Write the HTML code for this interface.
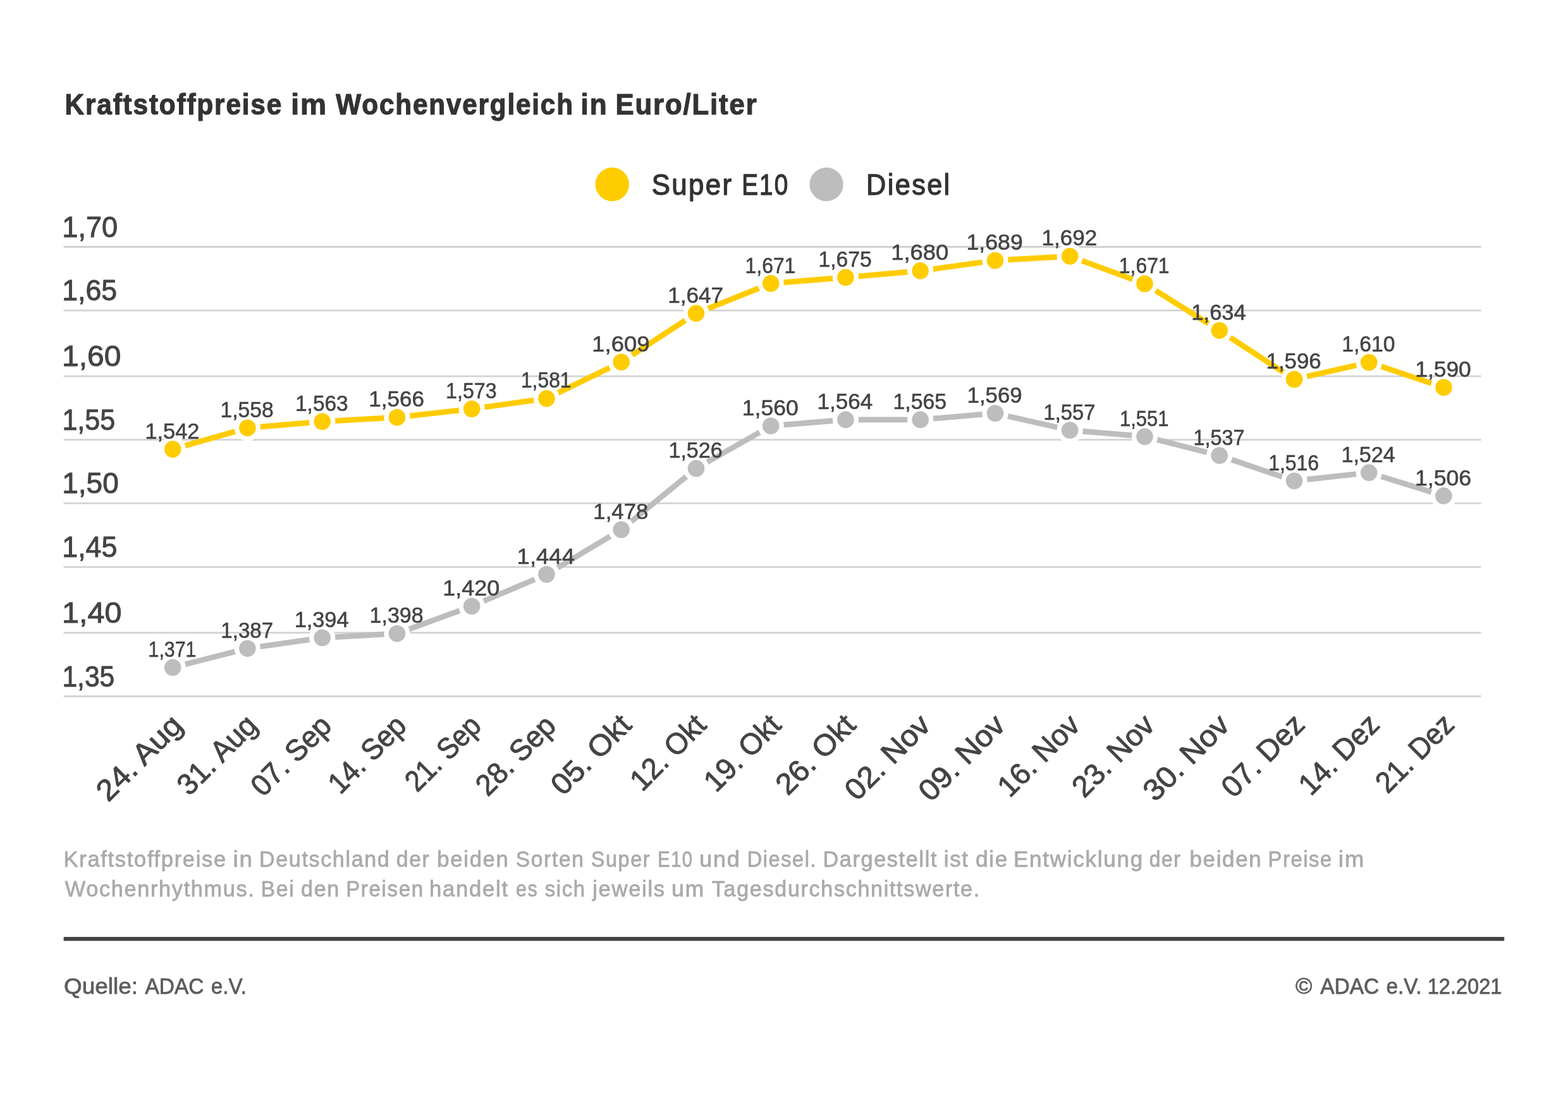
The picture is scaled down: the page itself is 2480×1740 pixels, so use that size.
<!DOCTYPE html>
<html lang="de">
<head>
<meta charset="utf-8">
<title>Kraftstoffpreise im Wochenvergleich in Euro/Liter</title>
<style>
html,body{margin:0;padding:0;background:#fff;}
body{width:2480px;height:1740px;overflow:hidden;}
svg{display:block;font-family:"Liberation Sans",sans-serif;}
</style>
</head>
<body>
<svg width="2480" height="1740" viewBox="0 0 2480 1740" role="img" aria-label="Kraftstoffpreise im Wochenvergleich in Euro/Liter">
<rect width="2480" height="1740" fill="#ffffff"/>
<g id="title">
<text y="180.80" font-size="47.09" fill="#333333" stroke="#333333" stroke-width="1.20" stroke-linejoin="round" font-weight="700"><tspan x="102.56" letter-spacing="2.00" textLength="344.59" lengthAdjust="spacingAndGlyphs">Kraftstoffpreise</tspan> <tspan x="460.17" letter-spacing="2.00" textLength="57.86" lengthAdjust="spacingAndGlyphs">im</tspan> <tspan x="531.36" letter-spacing="2.00" textLength="376.45" lengthAdjust="spacingAndGlyphs">Wochenvergleich</tspan> <tspan x="918.52" letter-spacing="2.00" textLength="43.00" lengthAdjust="spacingAndGlyphs">in</tspan> <tspan x="973.48" letter-spacing="2.00" textLength="225.04" lengthAdjust="spacingAndGlyphs">Euro/Liter</tspan></text>
</g>
<g id="legend">
<circle cx="968.3" cy="291.6" r="26.7" fill="#ffcc00"/>
<text y="307.75" font-size="45.93" fill="#333333" stroke="#333333" stroke-width="1.30" stroke-linejoin="round"><tspan x="1030.66" letter-spacing="2.50" textLength="128.80" lengthAdjust="spacingAndGlyphs">Super</tspan> <tspan x="1173.18" letter-spacing="2.50" textLength="75.08" lengthAdjust="spacingAndGlyphs">E10</tspan></text>
<circle cx="1307.1" cy="291.6" r="26.7" fill="#bdbdbd"/>
<text y="307.75" font-size="45.93" fill="#333333" stroke="#333333" stroke-width="1.30" stroke-linejoin="round"><tspan x="1370.10" letter-spacing="2.50" textLength="134.51" lengthAdjust="spacingAndGlyphs">Diesel</tspan></text>
</g>
<g id="grid" stroke="#d2d2d2" stroke-width="2.8">
<line x1="100.6" y1="390.5" x2="2342.6" y2="390.5"/>
<line x1="100.6" y1="491.1" x2="2342.6" y2="491.1"/>
<line x1="100.6" y1="595.1" x2="2342.6" y2="595.1"/>
<line x1="100.6" y1="695.6" x2="2342.6" y2="695.6"/>
<line x1="100.6" y1="796.2" x2="2342.6" y2="796.2"/>
<line x1="100.6" y1="896.8" x2="2342.6" y2="896.8"/>
<line x1="100.6" y1="1000.8" x2="2342.6" y2="1000.8"/>
<line x1="100.6" y1="1101.4" x2="2342.6" y2="1101.4"/>
</g>
<g id="yaxis">
<text x="98.26" y="374.60" font-size="47.09" textLength="88.01" lengthAdjust="spacingAndGlyphs" fill="#444444" stroke="#444444" stroke-width="1.00" stroke-linejoin="round">1,70</text>
<text x="98.30" y="475.20" font-size="47.09" textLength="86.87" lengthAdjust="spacingAndGlyphs" fill="#444444" stroke="#444444" stroke-width="1.00" stroke-linejoin="round">1,65</text>
<text x="98.05" y="579.20" font-size="47.09" textLength="93.33" lengthAdjust="spacingAndGlyphs" fill="#444444" stroke="#444444" stroke-width="1.00" stroke-linejoin="round">1,60</text>
<text x="98.42" y="679.70" font-size="47.09" textLength="83.68" lengthAdjust="spacingAndGlyphs" fill="#444444" stroke="#444444" stroke-width="1.00" stroke-linejoin="round">1,55</text>
<text x="98.19" y="780.30" font-size="47.09" textLength="89.61" lengthAdjust="spacingAndGlyphs" fill="#444444" stroke="#444444" stroke-width="1.00" stroke-linejoin="round">1,50</text>
<text x="98.29" y="880.90" font-size="47.09" textLength="87.09" lengthAdjust="spacingAndGlyphs" fill="#444444" stroke="#444444" stroke-width="1.00" stroke-linejoin="round">1,45</text>
<text x="98.01" y="984.90" font-size="47.09" textLength="94.39" lengthAdjust="spacingAndGlyphs" fill="#444444" stroke="#444444" stroke-width="1.00" stroke-linejoin="round">1,40</text>
<text x="98.46" y="1085.50" font-size="47.09" textLength="82.83" lengthAdjust="spacingAndGlyphs" fill="#444444" stroke="#444444" stroke-width="1.00" stroke-linejoin="round">1,35</text>
</g>
<g id="diesel">
<polyline fill="none" stroke="#bdbdbd" stroke-width="8.8" stroke-linejoin="round" points="273.2,1055.8 391.4,1025.7 509.7,1008.8 628.0,1002.2 746.2,958.8 864.5,908.5 982.7,837.8 1101.0,741.0 1219.2,673.7 1337.5,663.9 1455.7,663.9 1574.0,653.7 1692.2,680.5 1810.5,690.5 1928.7,720.5 2047.0,760.7 2165.2,747.6 2283.4,784.4"/>
<circle cx="273.2" cy="1055.8" r="16.95" fill="#bdbdbd" stroke="#ffffff" stroke-width="7.3"/>
<circle cx="391.4" cy="1025.7" r="16.95" fill="#bdbdbd" stroke="#ffffff" stroke-width="7.3"/>
<circle cx="509.7" cy="1008.8" r="16.95" fill="#bdbdbd" stroke="#ffffff" stroke-width="7.3"/>
<circle cx="628.0" cy="1002.2" r="16.95" fill="#bdbdbd" stroke="#ffffff" stroke-width="7.3"/>
<circle cx="746.2" cy="958.8" r="16.95" fill="#bdbdbd" stroke="#ffffff" stroke-width="7.3"/>
<circle cx="864.5" cy="908.5" r="16.95" fill="#bdbdbd" stroke="#ffffff" stroke-width="7.3"/>
<circle cx="982.7" cy="837.8" r="16.95" fill="#bdbdbd" stroke="#ffffff" stroke-width="7.3"/>
<circle cx="1101.0" cy="741.0" r="16.95" fill="#bdbdbd" stroke="#ffffff" stroke-width="7.3"/>
<circle cx="1219.2" cy="673.7" r="16.95" fill="#bdbdbd" stroke="#ffffff" stroke-width="7.3"/>
<circle cx="1337.5" cy="663.9" r="16.95" fill="#bdbdbd" stroke="#ffffff" stroke-width="7.3"/>
<circle cx="1455.7" cy="663.9" r="16.95" fill="#bdbdbd" stroke="#ffffff" stroke-width="7.3"/>
<circle cx="1574.0" cy="653.7" r="16.95" fill="#bdbdbd" stroke="#ffffff" stroke-width="7.3"/>
<circle cx="1692.2" cy="680.5" r="16.95" fill="#bdbdbd" stroke="#ffffff" stroke-width="7.3"/>
<circle cx="1810.5" cy="690.5" r="16.95" fill="#bdbdbd" stroke="#ffffff" stroke-width="7.3"/>
<circle cx="1928.7" cy="720.5" r="16.95" fill="#bdbdbd" stroke="#ffffff" stroke-width="7.3"/>
<circle cx="2047.0" cy="760.7" r="16.95" fill="#bdbdbd" stroke="#ffffff" stroke-width="7.3"/>
<circle cx="2165.2" cy="747.6" r="16.95" fill="#bdbdbd" stroke="#ffffff" stroke-width="7.3"/>
<circle cx="2283.4" cy="784.4" r="16.95" fill="#bdbdbd" stroke="#ffffff" stroke-width="7.3"/>
</g>
<g id="e10">
<polyline fill="none" stroke="#ffcc00" stroke-width="8.8" stroke-linejoin="round" points="273.2,710.6 391.4,676.9 509.7,666.8 628.0,660.2 746.2,646.8 864.5,630.3 982.7,572.7 1101.0,495.6 1219.2,448.4 1337.5,438.8 1455.7,428.3 1574.0,412.0 1692.2,405.3 1810.5,448.8 1928.7,522.7 2047.0,600.0 2165.2,573.2 2283.4,612.9"/>
<circle cx="273.2" cy="710.6" r="16.95" fill="#ffcc00" stroke="#ffffff" stroke-width="7.3"/>
<circle cx="391.4" cy="676.9" r="16.95" fill="#ffcc00" stroke="#ffffff" stroke-width="7.3"/>
<circle cx="509.7" cy="666.8" r="16.95" fill="#ffcc00" stroke="#ffffff" stroke-width="7.3"/>
<circle cx="628.0" cy="660.2" r="16.95" fill="#ffcc00" stroke="#ffffff" stroke-width="7.3"/>
<circle cx="746.2" cy="646.8" r="16.95" fill="#ffcc00" stroke="#ffffff" stroke-width="7.3"/>
<circle cx="864.5" cy="630.3" r="16.95" fill="#ffcc00" stroke="#ffffff" stroke-width="7.3"/>
<circle cx="982.7" cy="572.7" r="16.95" fill="#ffcc00" stroke="#ffffff" stroke-width="7.3"/>
<circle cx="1101.0" cy="495.6" r="16.95" fill="#ffcc00" stroke="#ffffff" stroke-width="7.3"/>
<circle cx="1219.2" cy="448.4" r="16.95" fill="#ffcc00" stroke="#ffffff" stroke-width="7.3"/>
<circle cx="1337.5" cy="438.8" r="16.95" fill="#ffcc00" stroke="#ffffff" stroke-width="7.3"/>
<circle cx="1455.7" cy="428.3" r="16.95" fill="#ffcc00" stroke="#ffffff" stroke-width="7.3"/>
<circle cx="1574.0" cy="412.0" r="16.95" fill="#ffcc00" stroke="#ffffff" stroke-width="7.3"/>
<circle cx="1692.2" cy="405.3" r="16.95" fill="#ffcc00" stroke="#ffffff" stroke-width="7.3"/>
<circle cx="1810.5" cy="448.8" r="16.95" fill="#ffcc00" stroke="#ffffff" stroke-width="7.3"/>
<circle cx="1928.7" cy="522.7" r="16.95" fill="#ffcc00" stroke="#ffffff" stroke-width="7.3"/>
<circle cx="2047.0" cy="600.0" r="16.95" fill="#ffcc00" stroke="#ffffff" stroke-width="7.3"/>
<circle cx="2165.2" cy="573.2" r="16.95" fill="#ffcc00" stroke="#ffffff" stroke-width="7.3"/>
<circle cx="2283.4" cy="612.9" r="16.95" fill="#ffcc00" stroke="#ffffff" stroke-width="7.3"/>
</g>
<g id="labels">
<text x="234.54" y="1038.90" font-size="35.47" textLength="75.90" lengthAdjust="spacingAndGlyphs" fill="#444444" stroke="#444444" stroke-width="0.60" stroke-linejoin="round">1,371</text>
<text x="349.29" y="1008.80" font-size="35.47" textLength="82.86" lengthAdjust="spacingAndGlyphs" fill="#444444" stroke="#444444" stroke-width="0.60" stroke-linejoin="round">1,387</text>
<text x="465.65" y="991.90" font-size="35.47" textLength="85.89" lengthAdjust="spacingAndGlyphs" fill="#444444" stroke="#444444" stroke-width="0.60" stroke-linejoin="round">1,394</text>
<text x="584.49" y="985.30" font-size="35.47" textLength="85.21" lengthAdjust="spacingAndGlyphs" fill="#444444" stroke="#444444" stroke-width="0.60" stroke-linejoin="round">1,398</text>
<text x="700.23" y="941.90" font-size="35.47" textLength="90.00" lengthAdjust="spacingAndGlyphs" fill="#444444" stroke="#444444" stroke-width="0.60" stroke-linejoin="round">1,420</text>
<text x="817.61" y="891.60" font-size="35.47" textLength="91.37" lengthAdjust="spacingAndGlyphs" fill="#444444" stroke="#444444" stroke-width="0.60" stroke-linejoin="round">1,444</text>
<text x="938.33" y="820.90" font-size="35.47" textLength="87.01" lengthAdjust="spacingAndGlyphs" fill="#444444" stroke="#444444" stroke-width="0.60" stroke-linejoin="round">1,478</text>
<text x="1057.43" y="724.10" font-size="35.47" textLength="85.35" lengthAdjust="spacingAndGlyphs" fill="#444444" stroke="#444444" stroke-width="0.60" stroke-linejoin="round">1,526</text>
<text x="1173.78" y="656.80" font-size="35.47" textLength="88.93" lengthAdjust="spacingAndGlyphs" fill="#444444" stroke="#444444" stroke-width="0.60" stroke-linejoin="round">1,560</text>
<text x="1292.55" y="647.00" font-size="35.47" textLength="87.56" lengthAdjust="spacingAndGlyphs" fill="#444444" stroke="#444444" stroke-width="0.60" stroke-linejoin="round">1,564</text>
<text x="1412.44" y="647.00" font-size="35.47" textLength="84.77" lengthAdjust="spacingAndGlyphs" fill="#444444" stroke="#444444" stroke-width="0.60" stroke-linejoin="round">1,565</text>
<text x="1529.59" y="636.80" font-size="35.47" textLength="87.11" lengthAdjust="spacingAndGlyphs" fill="#444444" stroke="#444444" stroke-width="0.60" stroke-linejoin="round">1,569</text>
<text x="1650.52" y="663.60" font-size="35.47" textLength="81.92" lengthAdjust="spacingAndGlyphs" fill="#444444" stroke="#444444" stroke-width="0.60" stroke-linejoin="round">1,557</text>
<text x="1770.99" y="673.60" font-size="35.47" textLength="77.48" lengthAdjust="spacingAndGlyphs" fill="#444444" stroke="#444444" stroke-width="0.60" stroke-linejoin="round">1,551</text>
<text x="1887.59" y="703.60" font-size="35.47" textLength="80.78" lengthAdjust="spacingAndGlyphs" fill="#444444" stroke="#444444" stroke-width="0.60" stroke-linejoin="round">1,537</text>
<text x="2006.13" y="743.80" font-size="35.47" textLength="80.02" lengthAdjust="spacingAndGlyphs" fill="#444444" stroke="#444444" stroke-width="0.60" stroke-linejoin="round">1,516</text>
<text x="2121.41" y="730.70" font-size="35.47" textLength="85.39" lengthAdjust="spacingAndGlyphs" fill="#444444" stroke="#444444" stroke-width="0.60" stroke-linejoin="round">1,524</text>
<text x="2238.02" y="767.50" font-size="35.47" textLength="89.11" lengthAdjust="spacingAndGlyphs" fill="#444444" stroke="#444444" stroke-width="0.60" stroke-linejoin="round">1,506</text>
<text x="229.38" y="693.70" font-size="35.47" textLength="86.14" lengthAdjust="spacingAndGlyphs" fill="#444444" stroke="#444444" stroke-width="0.60" stroke-linejoin="round">1,542</text>
<text x="348.50" y="660.00" font-size="35.47" textLength="84.19" lengthAdjust="spacingAndGlyphs" fill="#444444" stroke="#444444" stroke-width="0.60" stroke-linejoin="round">1,558</text>
<text x="467.01" y="649.90" font-size="35.47" textLength="83.71" lengthAdjust="spacingAndGlyphs" fill="#444444" stroke="#444444" stroke-width="0.60" stroke-linejoin="round">1,563</text>
<text x="583.32" y="643.30" font-size="35.47" textLength="87.54" lengthAdjust="spacingAndGlyphs" fill="#444444" stroke="#444444" stroke-width="0.60" stroke-linejoin="round">1,566</text>
<text x="705.10" y="629.90" font-size="35.47" textLength="80.57" lengthAdjust="spacingAndGlyphs" fill="#444444" stroke="#444444" stroke-width="0.60" stroke-linejoin="round">1,573</text>
<text x="823.94" y="613.40" font-size="35.47" textLength="79.55" lengthAdjust="spacingAndGlyphs" fill="#444444" stroke="#444444" stroke-width="0.60" stroke-linejoin="round">1,581</text>
<text x="936.18" y="555.80" font-size="35.47" textLength="91.39" lengthAdjust="spacingAndGlyphs" fill="#444444" stroke="#444444" stroke-width="0.60" stroke-linejoin="round">1,609</text>
<text x="1056.25" y="478.70" font-size="35.47" textLength="87.89" lengthAdjust="spacingAndGlyphs" fill="#444444" stroke="#444444" stroke-width="0.60" stroke-linejoin="round">1,647</text>
<text x="1178.60" y="431.50" font-size="35.47" textLength="79.74" lengthAdjust="spacingAndGlyphs" fill="#444444" stroke="#444444" stroke-width="0.60" stroke-linejoin="round">1,671</text>
<text x="1294.41" y="421.90" font-size="35.47" textLength="84.33" lengthAdjust="spacingAndGlyphs" fill="#444444" stroke="#444444" stroke-width="0.60" stroke-linejoin="round">1,675</text>
<text x="1409.23" y="411.40" font-size="35.47" textLength="90.99" lengthAdjust="spacingAndGlyphs" fill="#444444" stroke="#444444" stroke-width="0.60" stroke-linejoin="round">1,680</text>
<text x="1528.55" y="395.10" font-size="35.47" textLength="89.18" lengthAdjust="spacingAndGlyphs" fill="#444444" stroke="#444444" stroke-width="0.60" stroke-linejoin="round">1,689</text>
<text x="1647.58" y="388.40" font-size="35.47" textLength="87.73" lengthAdjust="spacingAndGlyphs" fill="#444444" stroke="#444444" stroke-width="0.60" stroke-linejoin="round">1,692</text>
<text x="1769.85" y="431.90" font-size="35.47" textLength="79.74" lengthAdjust="spacingAndGlyphs" fill="#444444" stroke="#444444" stroke-width="0.60" stroke-linejoin="round">1,671</text>
<text x="1884.37" y="505.80" font-size="35.47" textLength="86.44" lengthAdjust="spacingAndGlyphs" fill="#444444" stroke="#444444" stroke-width="0.60" stroke-linejoin="round">1,634</text>
<text x="2002.60" y="583.10" font-size="35.47" textLength="86.99" lengthAdjust="spacingAndGlyphs" fill="#444444" stroke="#444444" stroke-width="0.60" stroke-linejoin="round">1,596</text>
<text x="2122.22" y="556.30" font-size="35.47" textLength="84.12" lengthAdjust="spacingAndGlyphs" fill="#444444" stroke="#444444" stroke-width="0.60" stroke-linejoin="round">1,610</text>
<text x="2238.30" y="596.00" font-size="35.47" textLength="88.38" lengthAdjust="spacingAndGlyphs" fill="#444444" stroke="#444444" stroke-width="0.60" stroke-linejoin="round">1,590</text>
</g>
<g id="xaxis">
<g transform="translate(289.8 1152.3) rotate(-45)"><text x="-167.01" y="-0.50" font-size="47.09" textLength="169.68" lengthAdjust="spacingAndGlyphs" fill="#444444" stroke="#444444" stroke-width="1.00" stroke-linejoin="round">24. Aug</text></g>
<g transform="translate(408.1 1152.3) rotate(-45)"><text x="-153.37" y="-0.50" font-size="47.09" textLength="155.78" lengthAdjust="spacingAndGlyphs" fill="#444444" stroke="#444444" stroke-width="1.00" stroke-linejoin="round">31. Aug</text></g>
<g transform="translate(526.3 1152.3) rotate(-45)"><text x="-155.59" y="-0.50" font-size="47.09" textLength="157.00" lengthAdjust="spacingAndGlyphs" fill="#444444" stroke="#444444" stroke-width="1.00" stroke-linejoin="round">07. Sep</text></g>
<g transform="translate(644.6 1152.3) rotate(-45)"><text x="-150.01" y="-0.50" font-size="47.09" textLength="151.35" lengthAdjust="spacingAndGlyphs" fill="#444444" stroke="#444444" stroke-width="1.00" stroke-linejoin="round">14. Sep</text></g>
<g transform="translate(762.8 1152.3) rotate(-45)"><text x="-145.16" y="-0.50" font-size="47.09" textLength="146.44" lengthAdjust="spacingAndGlyphs" fill="#444444" stroke="#444444" stroke-width="1.00" stroke-linejoin="round">21. Sep</text></g>
<g transform="translate(881.1 1152.3) rotate(-45)"><text x="-154.42" y="-0.50" font-size="47.09" textLength="155.82" lengthAdjust="spacingAndGlyphs" fill="#444444" stroke="#444444" stroke-width="1.00" stroke-linejoin="round">28. Sep</text></g>
<g transform="translate(1001.8 1149.8) rotate(-45)"><text x="-156.80" y="-0.50" font-size="47.09" textLength="156.65" lengthAdjust="spacingAndGlyphs" fill="#444444" stroke="#444444" stroke-width="1.00" stroke-linejoin="round">05. Okt</text></g>
<g transform="translate(1120.0 1149.8) rotate(-45)"><text x="-146.99" y="-0.50" font-size="47.09" textLength="146.82" lengthAdjust="spacingAndGlyphs" fill="#444444" stroke="#444444" stroke-width="1.00" stroke-linejoin="round">12. Okt</text></g>
<g transform="translate(1238.3 1149.8) rotate(-45)"><text x="-149.21" y="-0.50" font-size="47.09" textLength="149.05" lengthAdjust="spacingAndGlyphs" fill="#444444" stroke="#444444" stroke-width="1.00" stroke-linejoin="round">19. Okt</text></g>
<g transform="translate(1356.5 1149.8) rotate(-45)"><text x="-155.92" y="-0.50" font-size="47.09" textLength="155.77" lengthAdjust="spacingAndGlyphs" fill="#444444" stroke="#444444" stroke-width="1.00" stroke-linejoin="round">26. Okt</text></g>
<g transform="translate(1474.8 1149.8) rotate(-45)"><text x="-168.48" y="-0.50" font-size="47.09" textLength="168.15" lengthAdjust="spacingAndGlyphs" fill="#444444" stroke="#444444" stroke-width="1.00" stroke-linejoin="round">02. Nov</text></g>
<g transform="translate(1593.0 1149.8) rotate(-45)"><text x="-170.67" y="-0.50" font-size="47.09" textLength="170.34" lengthAdjust="spacingAndGlyphs" fill="#444444" stroke="#444444" stroke-width="1.00" stroke-linejoin="round">09. Nov</text></g>
<g transform="translate(1711.3 1149.8) rotate(-45)"><text x="-160.97" y="-0.50" font-size="47.09" textLength="160.63" lengthAdjust="spacingAndGlyphs" fill="#444444" stroke="#444444" stroke-width="1.00" stroke-linejoin="round">16. Nov</text></g>
<g transform="translate(1829.5 1149.8) rotate(-45)"><text x="-161.77" y="-0.50" font-size="47.09" textLength="161.43" lengthAdjust="spacingAndGlyphs" fill="#444444" stroke="#444444" stroke-width="1.00" stroke-linejoin="round">23. Nov</text></g>
<g transform="translate(1947.8 1149.8) rotate(-45)"><text x="-170.28" y="-0.50" font-size="47.09" textLength="169.95" lengthAdjust="spacingAndGlyphs" fill="#444444" stroke="#444444" stroke-width="1.00" stroke-linejoin="round">30. Nov</text></g>
<g transform="translate(2065.3 1150.5) rotate(-45)"><text x="-161.16" y="-0.50" font-size="47.09" textLength="163.02" lengthAdjust="spacingAndGlyphs" fill="#444444" stroke="#444444" stroke-width="1.00" stroke-linejoin="round">07. Dez</text></g>
<g transform="translate(2183.6 1150.5) rotate(-45)"><text x="-155.64" y="-0.50" font-size="47.09" textLength="157.42" lengthAdjust="spacingAndGlyphs" fill="#444444" stroke="#444444" stroke-width="1.00" stroke-linejoin="round">14. Dez</text></g>
<g transform="translate(2301.8 1150.5) rotate(-45)"><text x="-150.74" y="-0.50" font-size="47.09" textLength="152.45" lengthAdjust="spacingAndGlyphs" fill="#444444" stroke="#444444" stroke-width="1.00" stroke-linejoin="round">21. Dez</text></g>
</g>
<g id="description">
<text y="1370.70" font-size="34.88" fill="#aaaaaa" stroke="#aaaaaa" stroke-width="0.80" stroke-linejoin="round"><tspan x="100.58" letter-spacing="1.70" textLength="258.23" lengthAdjust="spacingAndGlyphs">Kraftstoffpreise</tspan> <tspan x="368.43" letter-spacing="1.70" textLength="32.38" lengthAdjust="spacingAndGlyphs">in</tspan> <tspan x="410.01" letter-spacing="1.70" textLength="207.44" lengthAdjust="spacingAndGlyphs">Deutschland</tspan> <tspan x="626.79" letter-spacing="1.70" textLength="53.62" lengthAdjust="spacingAndGlyphs">der</tspan> <tspan x="691.37" letter-spacing="1.70" textLength="114.17" lengthAdjust="spacingAndGlyphs">beiden</tspan> <tspan x="815.67" letter-spacing="1.70" textLength="108.95" lengthAdjust="spacingAndGlyphs">Sorten</tspan> <tspan x="934.73" letter-spacing="1.70" textLength="94.49" lengthAdjust="spacingAndGlyphs">Super</tspan> <tspan x="1040.31" letter-spacing="1.70" textLength="56.15" lengthAdjust="spacingAndGlyphs">E10</tspan> <tspan x="1106.26" letter-spacing="1.70" textLength="65.42" lengthAdjust="spacingAndGlyphs">und</tspan> <tspan x="1181.63" letter-spacing="1.70" textLength="110.52" lengthAdjust="spacingAndGlyphs">Diesel.</tspan> <tspan x="1301.50" letter-spacing="1.70" textLength="181.62" lengthAdjust="spacingAndGlyphs">Dargestellt</tspan> <tspan x="1492.77" letter-spacing="1.70" textLength="39.99" lengthAdjust="spacingAndGlyphs">ist</tspan> <tspan x="1542.92" letter-spacing="1.70" textLength="52.27" lengthAdjust="spacingAndGlyphs">die</tspan> <tspan x="1603.02" letter-spacing="1.70" textLength="205.84" lengthAdjust="spacingAndGlyphs">Entwicklung</tspan> <tspan x="1817.87" letter-spacing="1.70" textLength="50.40" lengthAdjust="spacingAndGlyphs">der</tspan> <tspan x="1881.45" letter-spacing="1.70" textLength="115.02" lengthAdjust="spacingAndGlyphs">beiden</tspan> <tspan x="2005.52" letter-spacing="1.70" textLength="102.33" lengthAdjust="spacingAndGlyphs">Preise</tspan> <tspan x="2116.74" letter-spacing="1.70" textLength="42.37" lengthAdjust="spacingAndGlyphs">im</tspan></text>
<text y="1417.90" font-size="34.88" fill="#aaaaaa" stroke="#aaaaaa" stroke-width="0.80" stroke-linejoin="round"><tspan x="102.75" letter-spacing="1.70" textLength="300.84" lengthAdjust="spacingAndGlyphs">Wochenrhythmus.</tspan> <tspan x="412.42" letter-spacing="1.70" textLength="53.91" lengthAdjust="spacingAndGlyphs">Bei</tspan> <tspan x="476.07" letter-spacing="1.70" textLength="61.91" lengthAdjust="spacingAndGlyphs">den</tspan> <tspan x="547.19" letter-spacing="1.70" textLength="123.48" lengthAdjust="spacingAndGlyphs">Preisen</tspan> <tspan x="678.89" letter-spacing="1.70" textLength="125.86" lengthAdjust="spacingAndGlyphs">handelt</tspan> <tspan x="816.00" letter-spacing="1.70" textLength="35.41" lengthAdjust="spacingAndGlyphs">es</tspan> <tspan x="861.78" letter-spacing="1.70" textLength="64.96" lengthAdjust="spacingAndGlyphs">sich</tspan> <tspan x="937.15" letter-spacing="1.70" textLength="115.69" lengthAdjust="spacingAndGlyphs">jeweils</tspan> <tspan x="1061.98" letter-spacing="1.70" textLength="53.12" lengthAdjust="spacingAndGlyphs">um</tspan> <tspan x="1125.84" letter-spacing="1.70" textLength="425.10" lengthAdjust="spacingAndGlyphs">Tagesdurchschnittswerte.</tspan></text>
</g>
<g id="footer">
<rect x="100.7" y="1482" width="2278.5" height="6.3" fill="#444444"/>
<text y="1571.60" font-size="35.17" fill="#5c5c5c" stroke="#5c5c5c" stroke-width="0.80" stroke-linejoin="round"><tspan x="101.05" textLength="116.92" lengthAdjust="spacingAndGlyphs">Quelle:</tspan> <tspan x="229.53" textLength="92.94" lengthAdjust="spacingAndGlyphs">ADAC</tspan> <tspan x="333.86" textLength="56.01" lengthAdjust="spacingAndGlyphs">e.V.</tspan></text>
<text y="1571.60" font-size="35.17" fill="#5c5c5c" stroke="#5c5c5c" stroke-width="0.80" stroke-linejoin="round"><tspan x="2049.06" textLength="26.30" lengthAdjust="spacingAndGlyphs">©</tspan> <tspan x="2088.13" textLength="93.04" lengthAdjust="spacingAndGlyphs">ADAC</tspan> <tspan x="2192.46" textLength="56.12" lengthAdjust="spacingAndGlyphs">e.V.</tspan> <tspan x="2257.72" textLength="117.67" lengthAdjust="spacingAndGlyphs">12.2021</tspan></text>
</g>
</svg>
</body>
</html>
